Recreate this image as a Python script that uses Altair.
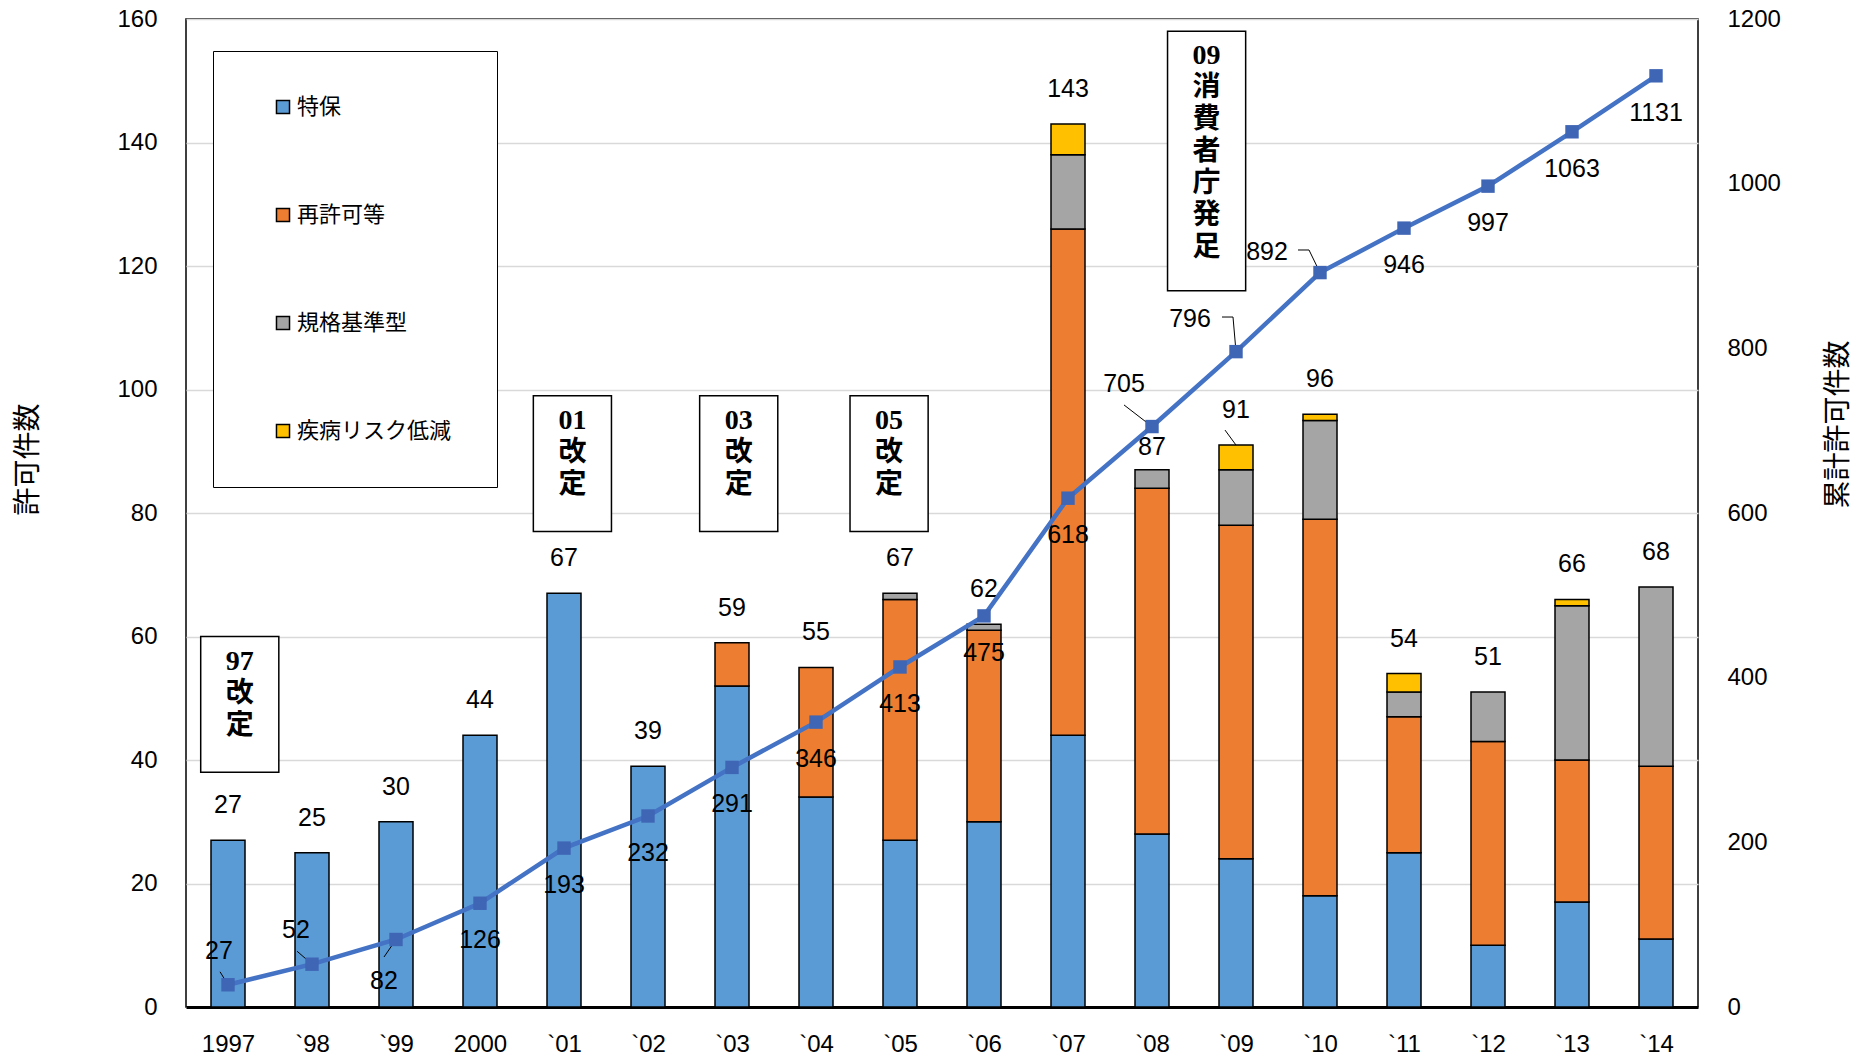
import altair as alt
import pandas as pd

# ---------------- data ----------------
years = ["1997", "`98", "`99", "2000", "`01", "`02", "`03", "`04", "`05",
         "`06", "`07", "`08", "`09", "`10", "`11", "`12", "`13", "`14"]
s_tokuho = [27, 25, 30, 44, 67, 39, 52, 34, 27, 30, 44, 28, 24, 18, 25, 10, 17, 11]
s_saikyoka = [0, 0, 0, 0, 0, 0, 7, 21, 39, 31, 82, 56, 54, 61, 22, 33, 23, 28]
s_kikaku = [0, 0, 0, 0, 0, 0, 0, 0, 1, 1, 12, 3, 9, 16, 4, 8, 25, 29]
s_shippei = [0, 0, 0, 0, 0, 0, 0, 0, 0, 0, 5, 0, 4, 1, 3, 0, 1, 0]
cumulative = [27, 52, 82, 126, 193, 232, 291, 346, 413, 475, 618, 705, 796,
              892, 946, 997, 1063, 1131]

series_names = ["特保", "再許可等", "規格基準型", "疾病リスク低減"]
series_values = [s_tokuho, s_saikyoka, s_kikaku, s_shippei]
series_colors = ["#5B9BD5", "#ED7D31", "#A5A5A5", "#FFC000"]

# annotation boxes (category-index centre, top / bottom on left axis)
ann_lines = [["97", "改", "定"], ["01", "改", "定"], ["03", "改", "定"],
             ["05", "改", "定"], ["09", "消", "費", "者", "庁", "発", "足"]]
ann_center = [0.14, 4.1, 6.08, 7.87, 11.65]
ann_top = [60, 99, 99, 99, 158]
ann_bottom = [38, 77, 77, 77, 116]

# ---------------- layout / style ----------------
W, H = 1512, 988
N = len(years)
PX_X = W / N
PX_L = H / 160
PX_R = H / 1200
BOX_HALF = 0.465

LABEL_FONT = "Liberation Sans"
JP_FONT = "Noto Sans CJK JP"

cum_label_default = (0, 37)
cum_label_offsets = {0: (-9, -34), 1: (-16, -34), 2: (-12, 42),
                     11: (-28, -43), 12: (-46, -33), 13: (-53, -21)}
tot_label_default = (0, -35)
tot_label_offsets = {11: (0, -23)}
cum_leaders = {0: [(0, 0), (-8, -13)], 1: [(0, 0), (-15, -13)],
               2: [(0, 0), (-12, 17.5)], 11: [(0, 0), (-28, -21.6)],
               12: [(0, 0), (-3, -34.6), (-14, -34.6)],
               13: [(0, 0), (-11, -22.6), (-22, -22.6)]}
bar_leaders = {12: [(0, 0), (-11, -15)]}

# ---------------- tables ----------------
rows = []
for k, (name, vals) in enumerate(zip(series_names, series_values)):
    for i, v in enumerate(vals):
        if v > 0:
            rows.append({"idx": i, "series": name, "k": k, "value": v})
df_bars = pd.DataFrame(rows)

totals = [sum(s[i] for s in series_values) for i in range(N)]
df_tot = pd.DataFrame({"idx": list(range(N)), "total": totals})
df_cum = pd.DataFrame({"idx": list(range(N)), "cum": cumulative})

df_ann = pd.DataFrame({
    "x1": [c - BOX_HALF for c in ann_center],
    "x2": [c + BOX_HALF for c in ann_center],
    "cx": ann_center,
    "top": ann_top,
    "bottom": ann_bottom,
    "lines": ann_lines,
})

lc = []
for i, pts in cum_leaders.items():
    for o, (dx, dy) in enumerate(pts):
        lc.append({"seg": i, "o": o, "x": i + dx / PX_X, "y": cumulative[i] - dy / PX_R})
df_lead_cum = pd.DataFrame(lc)
lb = []
for i, pts in bar_leaders.items():
    for o, (dx, dy) in enumerate(pts):
        lb.append({"seg": i, "o": o, "x": i + dx / PX_X, "y": totals[i] - dy / PX_L})
df_lead_bar = pd.DataFrame(lb)

# ---------------- scales / axes ----------------
x_scale = alt.Scale(domain=[-0.5, N - 0.5], nice=False, zero=False, padding=0)
yl_scale = alt.Scale(domain=[0, 160], nice=False, padding=0)
yr_scale = alt.Scale(domain=[0, 1200], nice=False, padding=0)

label_expr = "[" + ",".join("'" + y + "'" for y in years) + "][datum.value]"

x_axis = alt.Axis(values=list(range(N)), labelExpr=label_expr, title=None,
                  grid=False, ticks=False, tickSize=0, domain=True,
                  domainColor="black", domainWidth=3, labelPadding=25,
                  labelFontSize=24, labelFont=LABEL_FONT, labelColor="black",
                  labelBaseline="top")
yl_axis = alt.Axis(values=list(range(0, 161, 20)), format="d", title="許可件数",
                   grid=True, gridColor="#D9D9D9", gridWidth=1.5, ticks=False,
                   tickSize=0, domain=False, labelPadding=29, labelFontSize=24,
                   labelFont=LABEL_FONT, labelColor="black",
                   titleFont=JP_FONT, titleFontSize=28, titleFontWeight="normal",
                   titleColor="black", titleAngle=270, titleBaseline="middle",
                   titleAlign="center", titleX=-158, titleY=440)
yr_axis = alt.Axis(values=list(range(0, 1201, 200)), format="d", orient="right",
                   title="累計許可件数", grid=False, ticks=False, tickSize=0,
                   domain=False, labelPadding=29, labelFontSize=24,
                   labelFont=LABEL_FONT, labelColor="black",
                   titleFont=JP_FONT, titleFontSize=28, titleFontWeight="normal",
                   titleColor="black", titleAngle=270, titleBaseline="middle",
                   titleAlign="center", titleX=140, titleY=405)


def X(f):
    return alt.X(f, scale=x_scale, axis=x_axis)


def YL(f, **kw):
    return alt.Y(f, scale=yl_scale, axis=yl_axis, **kw)


def YR(f):
    return alt.Y(f, scale=yr_scale, axis=yr_axis)


# ---------------- left group ----------------
bars = alt.Chart(df_bars).mark_bar(size=34, stroke="black", strokeWidth=1.5,
                                   orient="vertical").encode(
    x=X("idx:Q"),
    y=YL("value:Q", stack="zero"),
    color=alt.Color("series:N",
                    scale=alt.Scale(domain=series_names, range=series_colors),
                    legend=alt.Legend(title=None, orient="none", legendX=27,
                                      legendY=32, direction="vertical",
                                      fillColor="white", strokeColor="black",
                                      padding=45, symbolOffset=14,
                                      rowPadding=86, labelFont=JP_FONT,
                                      labelFontSize=22, labelColor="black",
                                      labelOffset=3, symbolType="square",
                                      symbolSize=170, symbolStrokeColor="black",
                                      symbolStrokeWidth=1.5, symbolOpacity=1)),
    order=alt.Order("k:Q", sort="ascending"),
)


def tot_layer(expr, dx, dy):
    return alt.Chart(df_tot).transform_filter(expr).mark_text(
        dx=dx, dy=dy, font=LABEL_FONT, fontSize=25, color="black",
        baseline="middle").encode(
        x=X("idx:Q"), y=YL("total:Q"), text=alt.Text("total:Q"))


tot_layers = [tot_layer("indexof(%s, datum.idx) < 0" % list(tot_label_offsets.keys()),
                        *tot_label_default)]
for i, (dx, dy) in tot_label_offsets.items():
    tot_layers.append(tot_layer("datum.idx == %d" % i, dx, dy))

lead_bar = alt.Chart(df_lead_bar).mark_line(color="black", strokeWidth=1).encode(
    x=X("x:Q"), y=YL("y:Q"), detail="seg:N", order="o:Q")

boxes = alt.Chart(df_ann).mark_rect(fill="white", stroke="black",
                                    strokeWidth=1.5).encode(
    x=X("x1:Q"), x2="x2:Q", y=YL("top:Q"), y2="bottom:Q")

box_text = alt.Chart(df_ann).mark_text(
    font="Liberation Serif, " + JP_FONT, fontSize=28, fontWeight="bold",
    color="black", baseline="top", align="center", dy=11, lineHeight=32).encode(
    x=X("cx:Q"), y=YL("top:Q"), text="lines")

left = alt.layer(bars, *tot_layers, lead_bar, boxes, box_text)

# ---------------- right group ----------------
line = alt.Chart(df_cum).mark_line(color="#4472C4", strokeWidth=4.5).encode(
    x=X("idx:Q"), y=YR("cum:Q"))

lead_cum = alt.Chart(df_lead_cum).mark_line(color="black", strokeWidth=1).encode(
    x=X("x:Q"), y=YR("y:Q"), detail="seg:N", order="o:Q")

points = alt.Chart(df_cum).mark_point(shape="square", filled=True, size=180,
                                      color="#3F65B5", opacity=1).encode(
    x=X("idx:Q"), y=YR("cum:Q"))


def cum_layer(expr, dx, dy):
    return alt.Chart(df_cum).transform_filter(expr).mark_text(
        dx=dx, dy=dy, font=LABEL_FONT, fontSize=25, color="black",
        baseline="middle").encode(
        x=X("idx:Q"), y=YR("cum:Q"), text=alt.Text("cum:Q"))


cum_layers = [cum_layer("indexof(%s, datum.idx) < 0" % list(cum_label_offsets.keys()),
                        *cum_label_default)]
for i, (dx, dy) in cum_label_offsets.items():
    cum_layers.append(cum_layer("datum.idx == %d" % i, dx, dy))

right = alt.layer(line, lead_cum, points, *cum_layers)

chart = alt.layer(left, right).resolve_scale(y="independent").properties(
    width=W, height=H, autosize="none", background="white",
    padding={"left": 186, "top": 19, "right": 172, "bottom": 54},
).configure_view(stroke="black", strokeWidth=1.5)

chart.save("out.html", embed_options={"renderer": "svg", "actions": False})
